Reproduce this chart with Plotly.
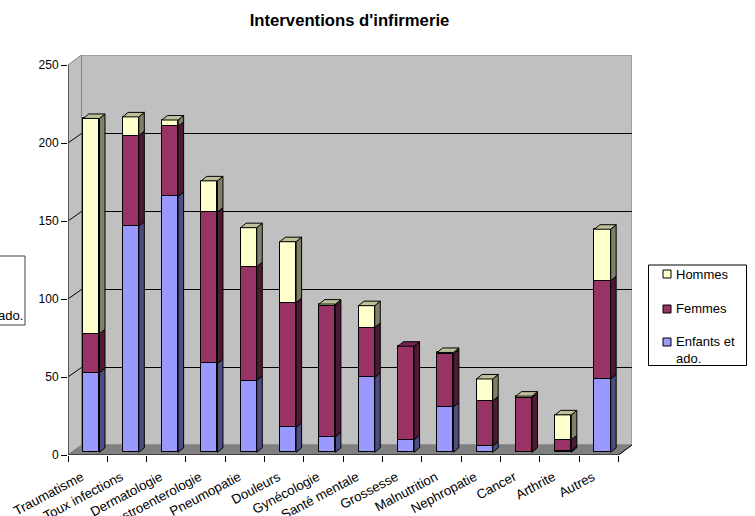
import plotly.graph_objects as go

categories = ["Traumatisme", "Toux infections", "Dermatologie", "Gastroenterologie", "Pneumopatie",
              "Douleurs", "Gynécologie", "Santé mentale", "Grossesse", "Malnutrition",
              "Nephropatie", "Cancer", "Arthrite", "Autres"]
enfants = [51, 145, 164, 57, 46, 16, 10, 48, 8, 29, 4, 0, 1, 47]
femmes = [25, 58, 45, 97, 73, 80, 84, 32, 60, 34, 29, 35, 7, 63]
hommes = [138, 12, 4, 20, 25, 39, 1, 14, 0, 1, 14, 1, 16, 33]
y_ticks = [0, 50, 100, 150, 200, 250]
series_names = ["Enfants et<br>ado.", "Femmes", "Hommes"]
front_colors = ["#9999FF", "#993366", "#FFFFCC"]
side_colors = ["#4D4D80", "#4D1933", "#808066"]
top_colors = ["#7373BF", "#73264D", "#BFBF99"]

W, H = 755, 516
L, R, T, B = 68, 632, 55, 455
ux = (618.6 - 68) / 14          # px per category
uy = 390 / 250                  # px per value
DX, DY = 13.5 / ux, 10 / uy     # wall depth
BX, BY = 5.5 / ux, 4.5 / uy     # bar depth
SHIFT, LIFT = 0.095, 2.7 / uy   # bar placement inside the floor
BW = 16.2 / ux
NUDGE = -0.5 / uy               # lands grid lines on a whole pixel row
n = len(categories)
px = lambda v: (v - L) / (R - L)
py = lambda v: (B - v) / (B - T)

shapes = []
def poly(xs, ys, fill, line="#808080", w=1):
    path = "M" + "L".join(f"{a},{b}" for a, b in zip(xs, ys)) + "Z"
    shapes.append(dict(type="path", path=path, xref="x", yref="y", fillcolor=fill,
                       line=dict(color=line, width=w), layer="below"))
def seg(x0, y0, x1, y1, color="black", w=1):
    shapes.append(dict(type="line", x0=x0, y0=y0, x1=x1, y1=y1, xref="x", yref="y",
                       line=dict(color=color, width=w), layer="below"))

top = y_ticks[-1]
poly([0, DX, DX, 0], [0, DY, top + DY, top], "#C0C0C0")
poly([DX, n + DX, n + DX, DX], [DY, DY, top + DY, top + DY], "#C0C0C0")
poly([0, n, n + DX, DX], [0, 0, DY, DY], "#808080")
for v in y_ticks[1:-1]:
    seg(DX, v + DY + NUDGE, n + DX, v + DY + NUDGE)
    seg(0, v, DX, v + DY + NUDGE)
seg(0, 0, n, 0)
seg(n, 0, n + DX, DY)
seg(0, 0, 0, top, "#404040", 1.5)

fig = go.Figure()
series = [enfants, femmes, hommes]
base = [0] * n
for k, vals in enumerate(series):
    fig.add_trace(go.Bar(
        x=[i + 0.5 + SHIFT for i in range(n)], y=vals,
        base=[b + LIFT for b in base], width=BW, name=series_names[k],
        marker=dict(color=front_colors[k], line=dict(color="black", width=1)),
        showlegend=False, hoverinfo="skip"))
    sx, sy = [], []
    for i in range(n):
        if vals[i] <= 0:
            continue
        x1 = i + 0.5 + SHIFT + BW / 2
        y0, y1 = base[i] + LIFT, base[i] + vals[i] + LIFT
        sx += [x1, x1 + BX, x1 + BX, x1, x1, None]
        sy += [y0, y0 + BY, y1 + BY, y1, y0, None]
    fig.add_trace(go.Scatter(x=sx, y=sy, mode="lines", fill="toself", fillcolor=side_colors[k],
                             line=dict(color="black", width=1), showlegend=False, hoverinfo="skip"))
    tx, ty = [], []
    for i in range(n):
        if vals[i] > 0 and not any(s[i] > 0 for s in series[k + 1:]):
            x0 = i + 0.5 + SHIFT - BW / 2
            x1 = x0 + BW
            y1 = base[i] + vals[i] + LIFT
            tx += [x0, x1, x1 + BX, x0 + BX, x0, None]
            ty += [y1, y1, y1 + BY, y1 + BY, y1, None]
    fig.add_trace(go.Scatter(x=tx, y=ty, mode="lines", fill="toself", fillcolor=top_colors[k],
                             line=dict(color="black", width=1), showlegend=False, hoverinfo="skip"))
    base = [b + v for b, v in zip(base, vals)]

annotations = []
def rect_px(x0, y0, x1, y1, fill, line="black"):
    shapes.append(dict(type="rect", xref="paper", yref="paper", x0=px(x0), x1=px(x1), y0=py(y0), y1=py(y1),
                       fillcolor=fill, line=dict(color=line, width=1), layer="above"))
def text_px(t, x, y, anchor="left"):
    annotations.append(dict(text=t, xref="paper", yref="paper", x=px(x), y=py(y), xanchor=anchor,
                            yanchor="middle", showarrow=False, align="left", xshift=0,
                            font=dict(size=13, color="black"), borderpad=0))

# clipped box at the left edge of the page
rect_px(-60, 256, 25, 325, "white", "#404040")
text_px("ado.", 24, 315, "right")

# legend box on the right
rect_px(648.5, 265, 746.5, 365.5, "white")
for k, (ys, yt) in zip([2, 1, 0], [(274, 274.5), (309, 308.5), (342, 350)]):
    rect_px(663, ys - 4, 671, ys + 4, front_colors[k])
    text_px(series_names[k], 675, yt)

fig.update_layout(
    width=W, height=H, barmode="overlay", bargap=0, showlegend=False,
    margin=dict(l=L, r=W - R, t=T, b=H - B),
    paper_bgcolor="white", plot_bgcolor="rgba(0,0,0,0)",
    font=dict(family="Liberation Sans, Arial, sans-serif", size=12, color="black"),
    title=dict(text="<b>Interventions d'infirmerie</b>", x=349.5 / W, xref="container", xanchor="center",
               y=1 - 20 / H, yref="container", yanchor="middle", font=dict(size=16.7)),
    xaxis=dict(range=[0, n + DX], showgrid=False, zeroline=False, showline=False, automargin=False,
               tickmode="array", tickvals=[i + 0.5 for i in range(n)], ticktext=categories,
               ticks="", tickangle=-28, tickfont=dict(size=13.3), ticklabelstandoff=11, ticklabelshift=-6,
               minor=dict(tickmode="array", tickvals=list(range(n + 1)), ticks="outside",
                          ticklen=6, tickcolor="black", showgrid=False)),
    yaxis=dict(range=[0, top + DY], showgrid=False, zeroline=False, showline=False, automargin=False,
               tickmode="array", tickvals=y_ticks, ticks="outside", ticklen=6, tickcolor="black",
               tickfont=dict(size=12)),
    shapes=shapes, annotations=annotations,
)
fig.write_html("out.html", config=dict(displayModeBar=False),
               post_script="document.body.style.margin='0';")
